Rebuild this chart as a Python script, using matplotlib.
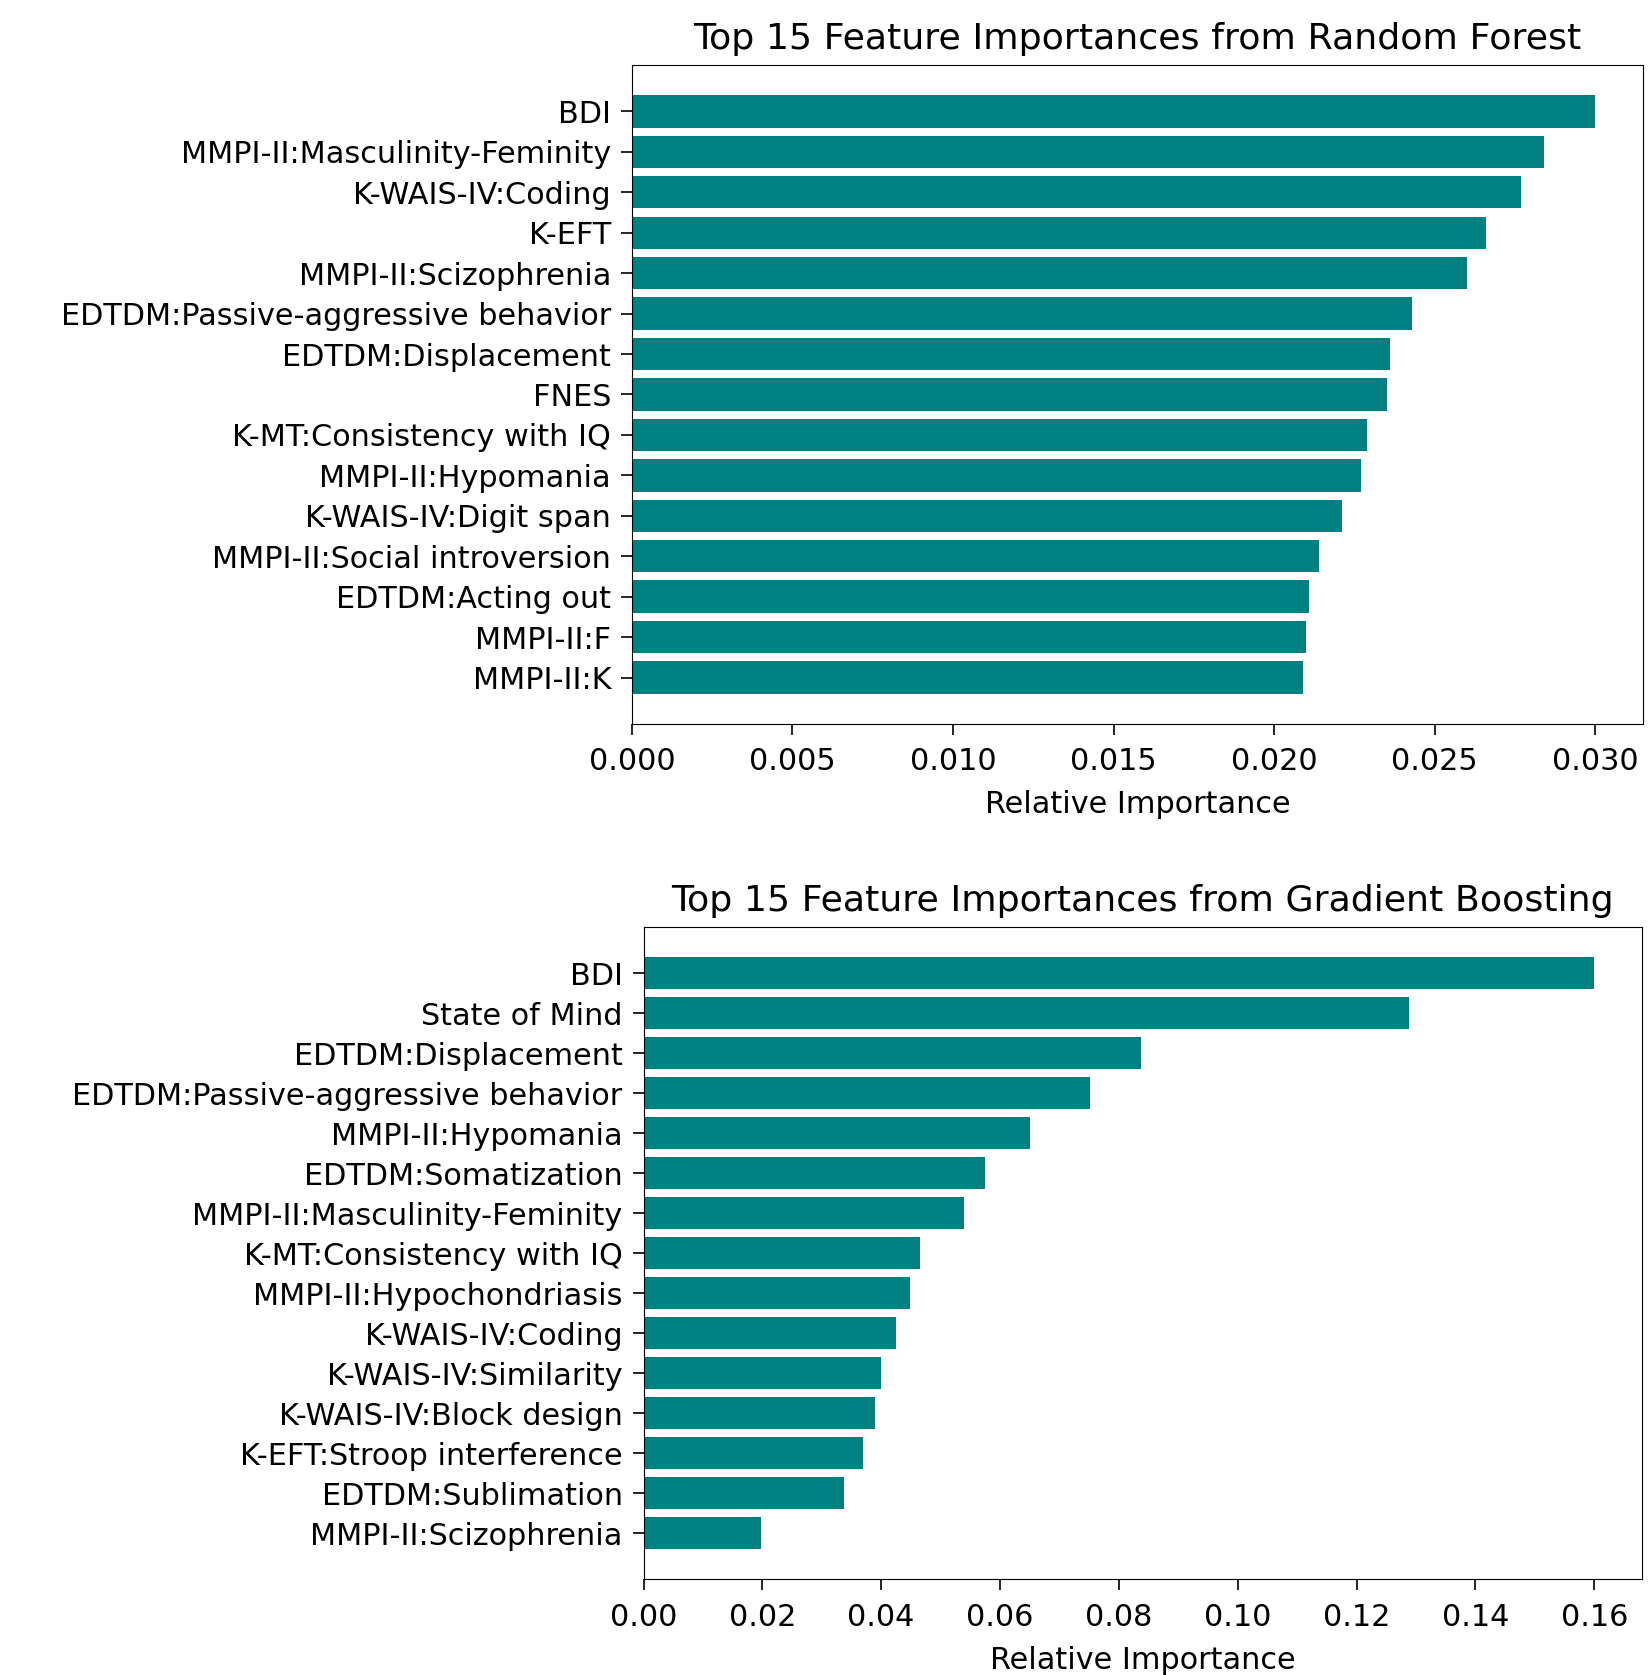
import matplotlib
matplotlib.use("Agg")
import matplotlib.pyplot as plt
import numpy as np

# Random Forest top 15
rf_features = ["BDI", "MMPI-II:Masculinity-Feminity", "K-WAIS-IV:Coding", "K-EFT",
               "MMPI-II:Scizophrenia", "EDTDM:Passive-aggressive behavior",
               "EDTDM:Displacement", "FNES", "K-MT:Consistency with IQ",
               "MMPI-II:Hypomania", "K-WAIS-IV:Digit span",
               "MMPI-II:Social introversion", "EDTDM:Acting out", "MMPI-II:F", "MMPI-II:K"]
rf_importance = [0.0300, 0.0284, 0.0277, 0.0266, 0.0260, 0.0243, 0.0236, 0.0235,
                 0.0229, 0.0227, 0.0221, 0.0214, 0.0211, 0.0210, 0.0209]

# Gradient Boosting top 15
gb_features = ["BDI", "State of Mind", "EDTDM:Displacement",
               "EDTDM:Passive-aggressive behavior", "MMPI-II:Hypomania",
               "EDTDM:Somatization", "MMPI-II:Masculinity-Feminity",
               "K-MT:Consistency with IQ", "MMPI-II:Hypochondriasis",
               "K-WAIS-IV:Coding", "K-WAIS-IV:Similarity", "K-WAIS-IV:Block design",
               "K-EFT:Stroop interference", "EDTDM:Sublimation", "MMPI-II:Scizophrenia"]
gb_importance = [0.1600, 0.1288, 0.0837, 0.0751, 0.0651, 0.0575, 0.0540, 0.0465,
                 0.0449, 0.0425, 0.0400, 0.0389, 0.0369, 0.0338, 0.0198]

plt.rcParams['font.family'] = ['DejaVu Sans']
plt.rcParams['font.size'] = 21.8

fig = plt.figure(figsize=(16.5, 16.75), dpi=100)
ax1 = fig.add_axes([0.383, 0.568, 0.613, 0.393])
ax2 = fig.add_axes([0.390, 0.0573, 0.605, 0.389])


def plot_imp(ax, feats, vals, title):
    pos = np.arange(len(feats))[::-1]
    ax.barh(pos, vals, color='teal', align='center')
    ax.set_yticks(pos)
    ax.set_yticklabels(feats)
    ax.set_xlabel('Relative Importance', labelpad=10)
    ax.set_title(title, fontsize=26.2, pad=12)
    ax.tick_params(length=8, width=1.2, pad=7)
    ax.tick_params(axis='x', pad=9)


plot_imp(ax1, rf_features, rf_importance, 'Top 15 Feature Importances from Random Forest')
plot_imp(ax2, gb_features, gb_importance, 'Top 15 Feature Importances from Gradient Boosting')

fig.savefig('out.png', dpi=100)
